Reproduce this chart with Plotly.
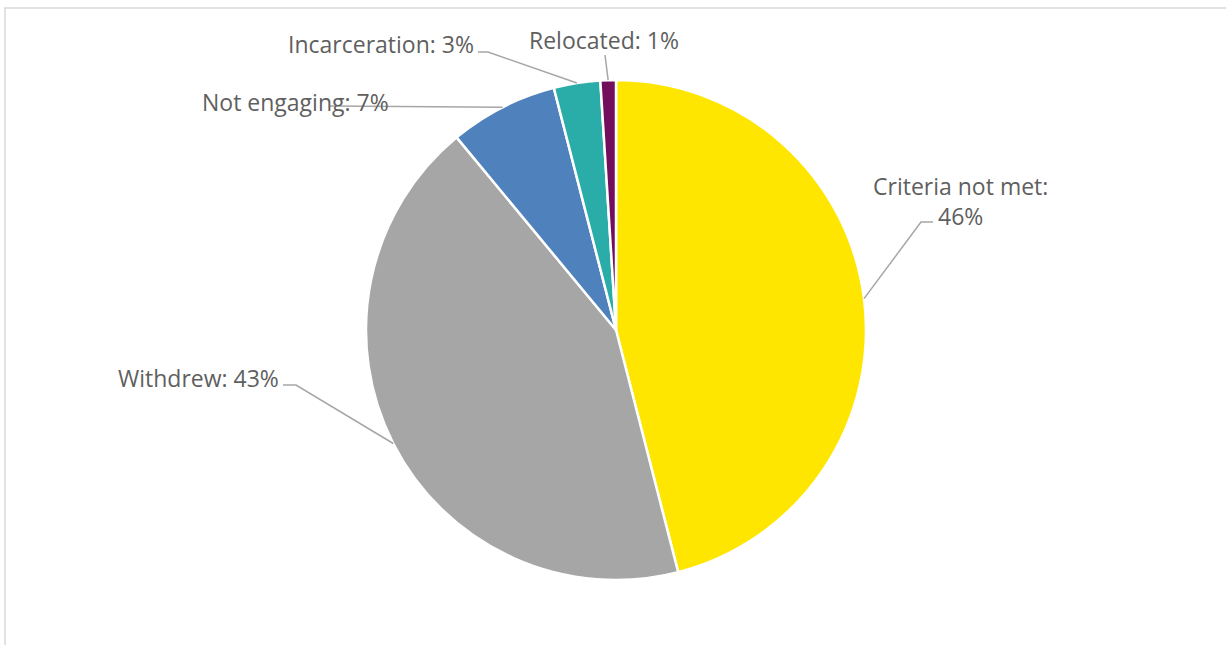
import math
import plotly.graph_objects as go

# Reasons for leaving the programme (percent of cases)
categories = ["Criteria not met", "Withdrew", "Not engaging", "Incarceration", "Relocated"]
values = [46, 43, 7, 3, 1]
colors = ["#FFE600", "#A6A6A6", "#4F81BD", "#2AACA8", "#730E5C"]

W, H = 1226, 645
CX, CY, R = 616, 330, 250  # pie centre and radius in pixels

# Label placement per slice: elbow point, line end, text anchor, alignment
label_layout = {
    "Criteria not met": dict(elbow=(921, 222), end=(933, 222), text=(960, 201), xanchor="center"),
    "Withdrew": dict(elbow=(296, 385), end=(283, 385), text=(281, 378), xanchor="right"),
    "Not engaging": dict(elbow=None, end=(330, 106), text=(391, 102), xanchor="right"),
    "Incarceration": dict(elbow=(488, 52), end=(478, 52), text=(476, 44), xanchor="right"),
    "Relocated": dict(elbow=None, end=(605, 55), text=(604, 40), xanchor="center"),
}


def px(x):
    return x / W


def py(y):
    return 1 - y / H


fig = go.Figure(
    go.Pie(
        labels=categories,
        values=values,
        sort=False,
        direction="clockwise",
        rotation=0,
        textinfo="none",
        hoverinfo="label+percent",
        marker=dict(colors=colors, line=dict(color="white", width=2.5)),
        domain=dict(x=[px(CX - R), px(CX + R)], y=[py(CY + R), py(CY - R)]),
        showlegend=False,
    )
)

shapes = [
    # chart frame
    dict(type="rect", xref="paper", yref="paper",
         x0=px(5), x1=px(W + 10), y0=py(H + 10), y1=py(8),
         line=dict(color="#D9D9D9", width=1.5), fillcolor="rgba(0,0,0,0)", layer="below"),
]
annotations = []

total = sum(values)
cum = 0.0
for cat, val in zip(categories, values):
    mid = (cum + val / 2) / total * 2 * math.pi
    cum += val
    ex = CX + R * math.sin(mid)
    ey = CY - R * math.cos(mid)
    lay = label_layout[cat]
    pts = [(ex, ey)]
    if lay["elbow"] is not None:
        pts.append(lay["elbow"])
    pts.append(lay["end"])
    path = "M " + " L ".join(f"{px(x):.5f},{py(y):.5f}" for x, y in pts)
    shapes.append(dict(type="path", xref="paper", yref="paper", path=path,
                       line=dict(color="#A6A6A6", width=1.5)))
    pct = f"{round(val / total * 100)}%"
    if cat == "Criteria not met":
        txt = f"{cat}:<br>{pct}"
    else:
        txt = f"{cat}: {pct}"
    tx, ty = lay["text"]
    annotations.append(dict(
        x=px(tx), y=py(ty), xref="paper", yref="paper", text=txt, showarrow=False,
        xanchor=lay["xanchor"], yanchor="middle", align="center",
        font=dict(family="Open Sans, sans-serif", size=23, color="#5F5F5F"),
    ))

fig.update_layout(
    width=W, height=H,
    margin=dict(l=0, r=0, t=0, b=0),
    paper_bgcolor="white", plot_bgcolor="white",
    shapes=shapes, annotations=annotations,
)

fig.write_html("out.html")
